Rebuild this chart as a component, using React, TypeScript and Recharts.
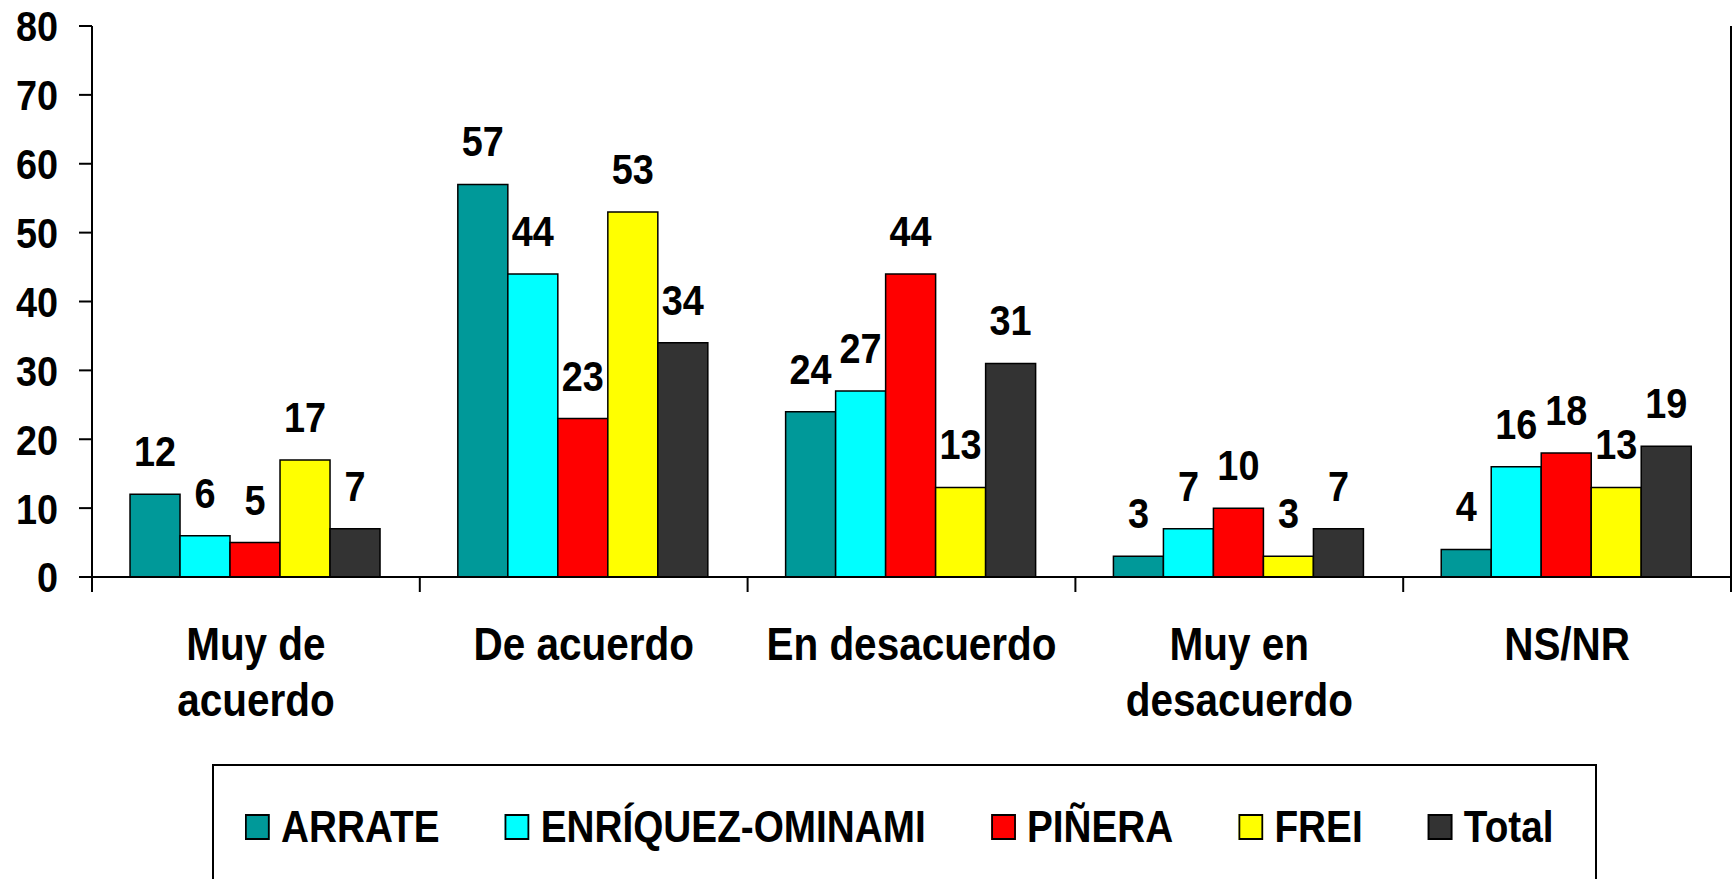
import React from "react"
import { BarChart, Bar, XAxis, YAxis, LabelList } from "recharts"

const categories = ["Muy de acuerdo", "De acuerdo", "En desacuerdo", "Muy en desacuerdo", "NS/NR"]
const categoryLines = [["Muy de", "acuerdo"], ["De acuerdo"], ["En desacuerdo"], ["Muy en", "desacuerdo"], ["NS/NR"]]

const arrate = [12, 57, 24, 3, 4]
const enriquez = [6, 44, 27, 7, 16]
const pinera = [5, 23, 44, 10, 18]
const frei = [17, 53, 13, 3, 13]
const total = [7, 34, 31, 7, 19]

const yTicks = [0, 10, 20, 30, 40, 50, 60, 70, 80]

const series = [
  { key: "arrate", name: "ARRATE", color: "#009999", values: arrate },
  { key: "enriquez", name: "ENRÍQUEZ-OMINAMI", color: "#00FFFF", values: enriquez },
  { key: "pinera", name: "PIÑERA", color: "#FF0000", values: pinera },
  { key: "frei", name: "FREI", color: "#FFFF00", values: frei },
  { key: "total", name: "Total", color: "#333333", values: total },
]

const data = categories.map((name, i) => {
  const row: Record<string, any> = { name }
  series.forEach((s) => {
    row[s.key] = s.values[i]
  })
  return row
})

const W = 1734
const H = 879
const LEFT = 92
const RIGHT = 3
const TOP = 26
const XAXIS_H = 302
const bandWidth = (W - LEFT - RIGHT) / categories.length

const FONT = '"Liberation Sans", Arial, Helvetica, sans-serif'
// the original text is a little narrower than Arial bold
const SQUEEZE = 0.88

const YTick = (props: any) => {
  const { x, y, payload } = props
  return (
    <text
      transform={`translate(${x},${y}) scale(${SQUEEZE},1)`}
      textAnchor="end"
      dy="0.36em"
      style={{ fontFamily: FONT, fontWeight: "bold", fontSize: 43, fill: "#000" }}
    >
      {payload.value}
    </text>
  )
}

// category label plus tick marks on the category boundaries
const XTick = (props: any) => {
  const { x, y, index } = props
  const lines = categoryLines[index] || []
  const left = x - bandWidth / 2
  const right = x + bandWidth / 2
  return (
    <g>
      <line x1={left} y1={y} x2={left} y2={y + 15} stroke="#000" strokeWidth={2} />
      {index === categories.length - 1 && (
        <line x1={right} y1={y} x2={right} y2={y + 15} stroke="#000" strokeWidth={2} />
      )}
      <text
        transform={`translate(${x},${y}) scale(${SQUEEZE},1)`}
        textAnchor="middle"
        style={{ fontFamily: FONT, fontWeight: "bold", fontSize: 46, fill: "#000" }}
      >
        {lines.map((l, i) => (
          <tspan key={i} x={0} y={83 + i * 56.5}>
            {l}
          </tspan>
        ))}
      </text>
    </g>
  )
}

const renderLabel = (props: any) => {
  const { x, y, width, value } = props
  const cx = Number(x) + Number(width) / 2
  return (
    <text
      transform={`translate(${cx},${Number(y) - 28}) scale(${SQUEEZE},1)`}
      textAnchor="middle"
      style={{ fontFamily: FONT, fontWeight: "bold", fontSize: 43, fill: "#000" }}
    >
      {value}
    </text>
  )
}

const App = () => {
  return (
    <div style={{ position: "absolute", left: 0, top: 0, width: W, height: H, overflow: "hidden", background: "#fff" }}>
      <BarChart
        width={W}
        height={H}
        data={data}
        margin={{ top: TOP, right: 0, left: 0, bottom: 0 }}
        barCategoryGap="11.6%"
        barGap={0}
      >
        <XAxis
          dataKey="name"
          height={XAXIS_H}
          interval={0}
          tickSize={0}
          tickMargin={0}
          tickLine={false}
          tick={<XTick />}
          axisLine={{ stroke: "#000", strokeWidth: 2 }}
        />
        <XAxis
          xAxisId="top"
          orientation="top"
          dataKey="name"
          height={0}
          tick={false}
          tickLine={false}
          axisLine={{ stroke: "#000", strokeWidth: 2 }}
        />
        <YAxis
          width={LEFT}
          domain={[0, 80]}
          ticks={yTicks}
          interval={0}
          tickSize={13}
          tickMargin={21}
          tick={<YTick />}
          tickLine={{ stroke: "#000", strokeWidth: 2 }}
          axisLine={{ stroke: "#000", strokeWidth: 2 }}
        />
        <YAxis
          yAxisId="right"
          orientation="right"
          width={RIGHT}
          domain={[0, 80]}
          tick={false}
          tickLine={false}
          axisLine={{ stroke: "#000", strokeWidth: 2 }}
        />
        {series.map((s) => (
          <Bar
            key={s.key}
            dataKey={s.key}
            name={s.name}
            fill={s.color}
            stroke="#000"
            strokeWidth={1.5}
            isAnimationActive={false}
          >
            <LabelList dataKey={s.key} content={renderLabel} />
          </Bar>
        ))}
      </BarChart>

      <div
        style={{
          position: "absolute",
          left: 212,
          top: 764,
          width: 1385,
          height: 140,
          border: "2px solid #000",
          boxSizing: "border-box",
        }}
      >
        <div
          style={{
            position: "absolute",
            left: 31,
            top: 39,
            display: "flex",
            alignItems: "baseline",
            whiteSpace: "nowrap",
            transform: `scaleX(${SQUEEZE})`,
            transformOrigin: "left top",
            fontFamily: FONT,
            fontWeight: "bold",
            fontSize: 44,
            lineHeight: 1,
          }}
        >
          {series.map((s, i) => (
            <div
              key={s.key}
              style={{ display: "flex", alignItems: "baseline", marginLeft: i === 0 ? 0 : 74 }}
            >
              <span
                style={{
                  display: "inline-block",
                  position: "relative",
                  top: -2,
                  width: 28,
                  height: 26,
                  background: s.color,
                  border: "2px solid #000",
                  boxSizing: "border-box",
                  marginRight: 13,
                }}
              />
              <span>{s.name}</span>
            </div>
          ))}
        </div>
      </div>
    </div>
  )
}

export default App
